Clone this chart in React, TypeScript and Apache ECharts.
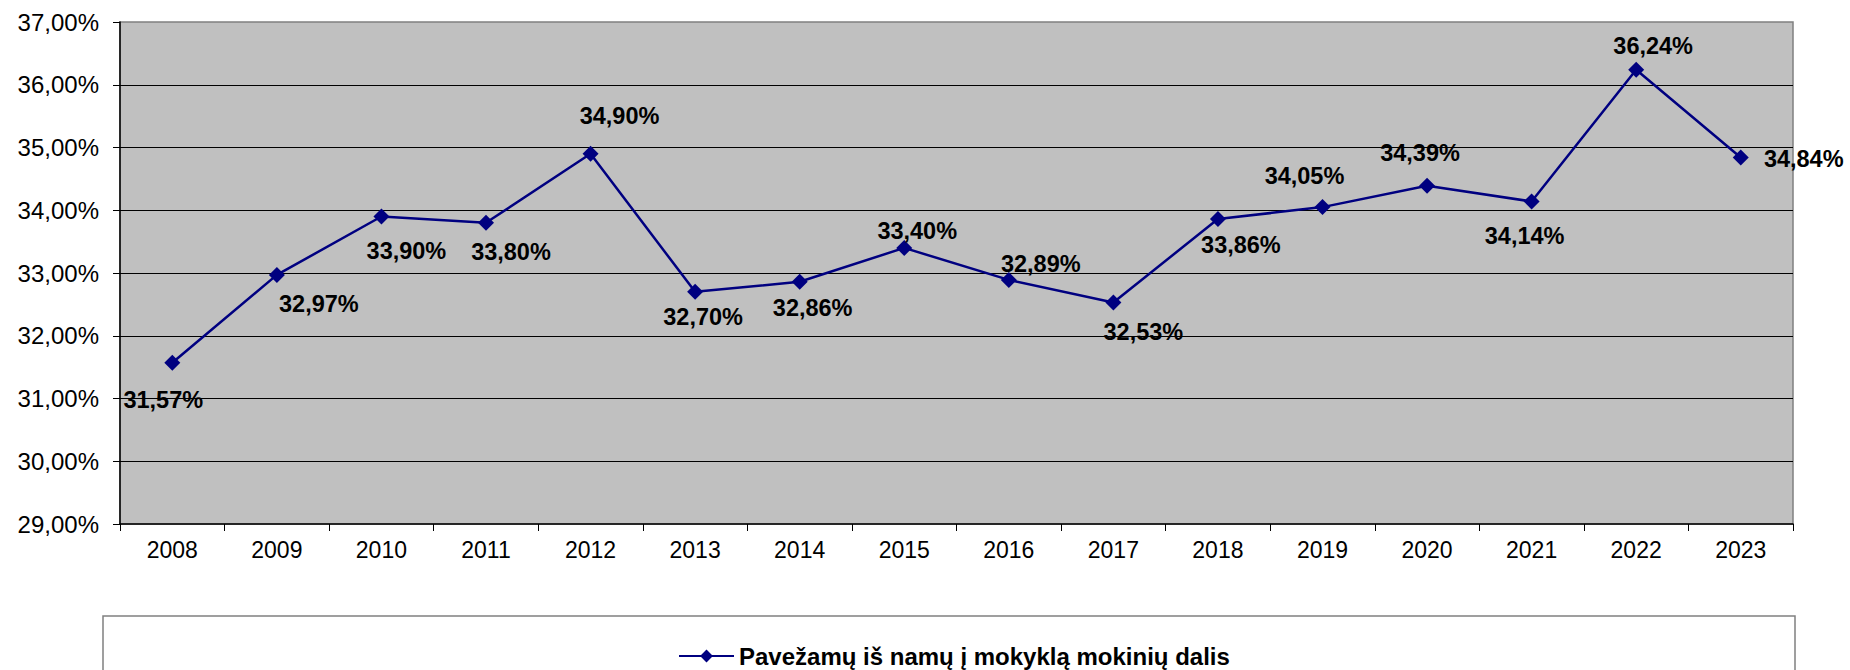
import React, { useEffect, useRef } from "react";
import * as echarts from "echarts";

const years = ["2008","2009","2010","2011","2012","2013","2014","2015","2016","2017","2018","2019","2020","2021","2022","2023"];
const shares = [31.57, 32.97, 33.9, 33.8, 34.9, 32.7, 32.86, 33.4, 32.89, 32.53, 33.86, 34.05, 34.39, 34.14, 36.24, 34.84];
const seriesName = "Pavežamų iš namų į mokyklą mokinių dalis";
const yMin = 29;
const yMax = 37;
const yStep = 1;
// label placement offsets (px) relative to each point
const labelOffsets: [number, number][] = [
  [-9, 37], [42, 29], [25, 34], [25, 29], [29, -38], [8, 25], [13, 26], [13, -17],
  [32, -16], [30, 30], [23, 26], [-18, -31], [-7, -33], [-7, 35], [17, -24], [63, 1],
];

const FONT = "'Liberation Sans', Arial, sans-serif";
const fmt = (v: number) => v.toFixed(2).replace(".", ",") + "%";

export default function App() {
  const ref = useRef<HTMLDivElement>(null);
  useEffect(() => {
    if (!ref.current) return;
    const chart = echarts.init(ref.current, null, { renderer: "svg" });
    chart.setOption({
      animation: false,
      backgroundColor: "#ffffff",
      grid: {
        left: 120,
        top: 22,
        right: 57,
        bottom: 146,
        show: true,
        backgroundColor: "#C0C0C0",
        borderColor: "#808080",
        borderWidth: 1.5,
      },
      graphic: [
        {
          type: "rect",
          shape: { x: 103, y: 616, width: 1692, height: 100 },
          style: { fill: "#ffffff", stroke: "#808080", lineWidth: 1.5 },
          z: 0,
        },
      ],
      legend: {
        data: [seriesName],
        left: 673,
        top: 639,
        itemWidth: 55,
        itemHeight: 16,
        textStyle: { fontFamily: FONT, fontSize: 24, fontWeight: "bold", color: "#000" },
        z: 10,
      },
      xAxis: {
        type: "category",
        data: years,
        boundaryGap: true,
        axisLine: { show: true, lineStyle: { color: "#000", width: 1.5 } },
        axisTick: { show: true, length: 7, alignWithLabel: false, lineStyle: { color: "#000", width: 1 } },
        axisLabel: { fontFamily: FONT, fontSize: 23, color: "#000", margin: 14 },
        splitLine: { show: false },
      },
      yAxis: {
        type: "value",
        min: yMin,
        max: yMax,
        interval: yStep,
        axisLine: { show: true, lineStyle: { color: "#000", width: 1.5 } },
        axisTick: { show: true, length: 7, lineStyle: { color: "#000", width: 1 } },
        axisLabel: { fontFamily: FONT, fontSize: 24, color: "#000", margin: 21, formatter: (v: number) => fmt(v) },
        splitLine: { show: true, showMaxLine: false, showMinLine: false, lineStyle: { color: "#000", width: 1 } },
      },
      series: [
        {
          name: seriesName,
          type: "line",
          data: shares.map((v, i) => ({
            value: v,
            label: { offset: labelOffsets[i] },
          })),
          symbol: "diamond",
          symbolSize: 16,
          itemStyle: { color: "#000080" },
          lineStyle: { color: "#000080", width: 2.5 },
          label: {
            show: true,
            position: "inside",
            fontFamily: FONT,
            fontSize: 23.5,
            fontWeight: "bold",
            color: "#000",
            formatter: (p: any) => fmt(p.value),
          },
          z: 5,
        },
      ],
    });
    return () => chart.dispose();
  }, []);
  return (
    <div
      ref={ref}
      style={{ position: "absolute", left: 0, top: 0, width: 1850, height: 670 }}
    />
  );
}
